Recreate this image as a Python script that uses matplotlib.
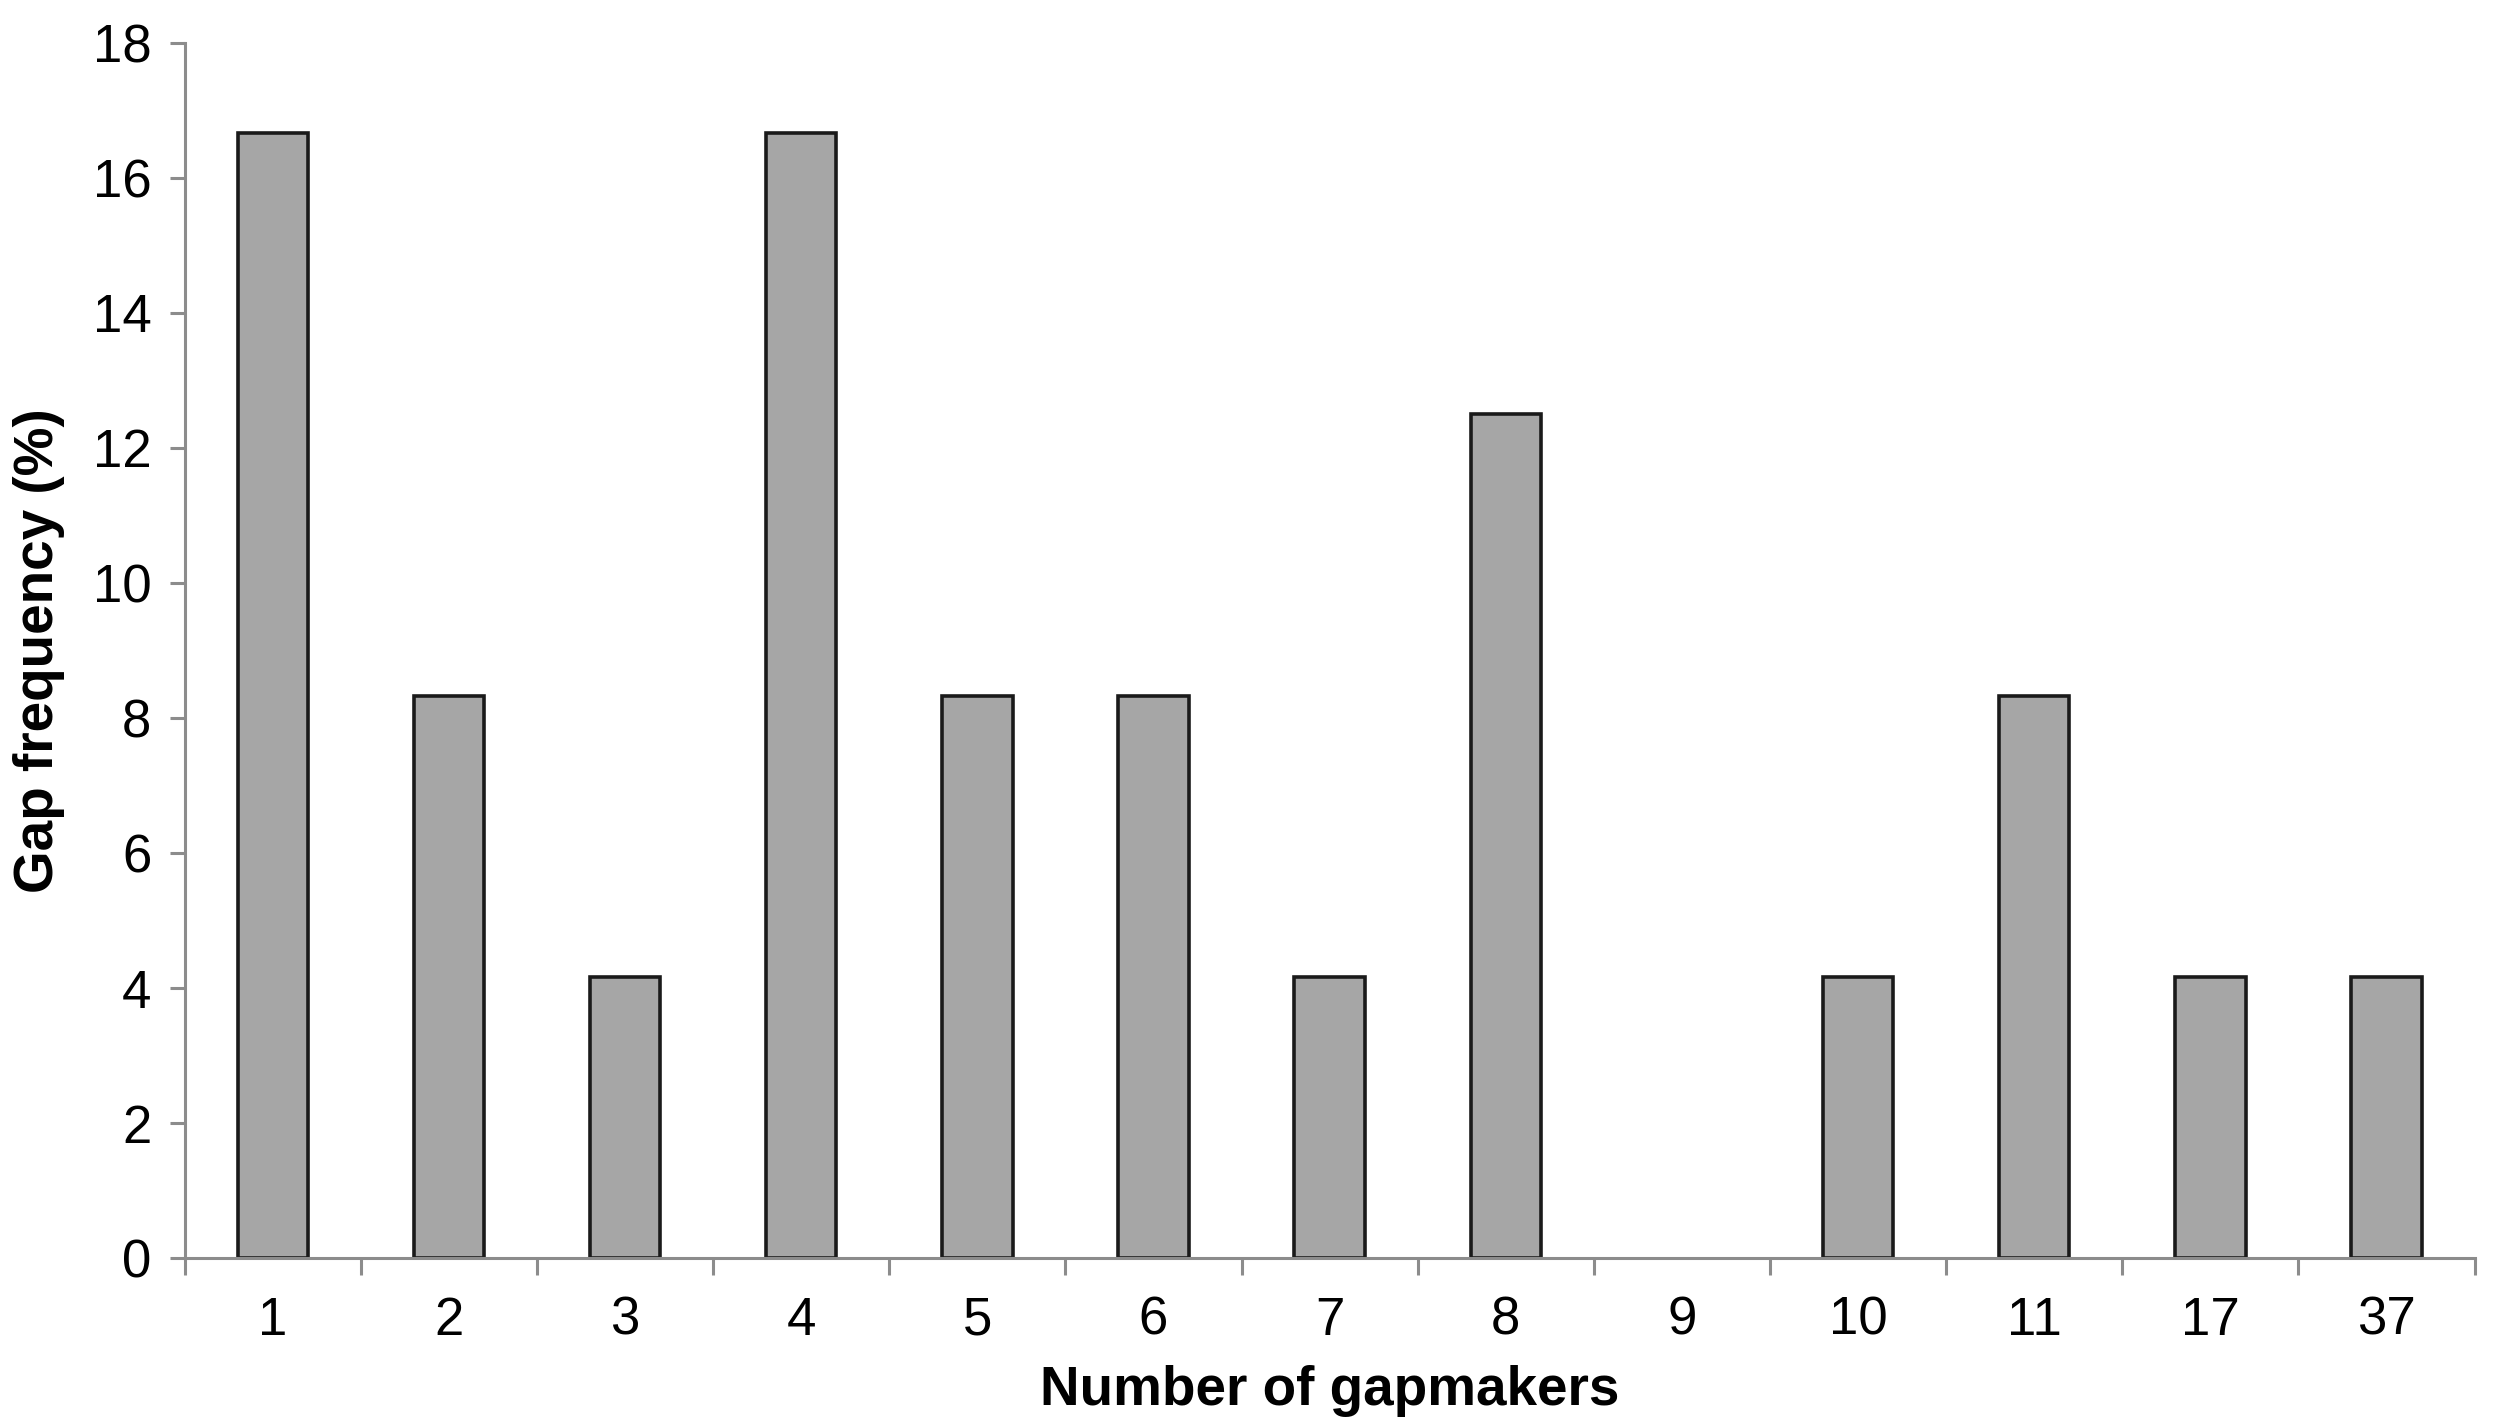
import matplotlib
matplotlib.use("Agg")
import matplotlib.pyplot as plt
import numpy as np

plt.rcParams['font.family'] = ['Liberation Sans', 'DejaVu Sans']

# number of gapmakers per gap, and share of gaps (%)
categories = ["1", "2", "3", "4", "5", "6", "7", "8", "9", "10", "11", "17", "37"]
gap_freq = [16.67, 8.33, 4.17, 16.67, 8.33, 8.33, 4.17, 12.5, 0, 4.17, 8.33, 4.17, 4.17]

fig = plt.figure(figsize=(24.97, 14.28), dpi=100)
ax = fig.add_axes([0.074, 0.119, 0.917, 0.851])

x = np.arange(len(categories))
bars = ax.bar(x, gap_freq, width=0.4, color="#a6a6a6", edgecolor="#1a1a1a", linewidth=2.6)
# empty categories get no outline either
for b, v in zip(bars, gap_freq):
    if v == 0:
        b.set_visible(False)

ax.set_xlim(-0.5, len(categories) - 0.5)
ax.set_ylim(0, 18)
ax.set_yticks(np.arange(0, 19, 2))

ax.set_xticks(x)
ax.set_xticklabels(categories)
ax.set_xticks(np.arange(-0.5, len(categories)), minor=True)

grey = "#8c8c8c"
for side in ["top", "right"]:
    ax.spines[side].set_visible(False)
for side in ["left", "bottom"]:
    ax.spines[side].set_color(grey)
    ax.spines[side].set_linewidth(2.2)

ax.tick_params(axis="y", length=11, width=2.2, color=grey, labelsize=38, pad=13)
ax.tick_params(axis="x", which="major", length=0, labelsize=38, pad=27)
ax.tick_params(axis="x", which="minor", length=12, width=2.2, color=grey)

ax.set_xlabel("Number of gapmakers", fontsize=39.5, fontweight="bold", labelpad=14)
ax.set_ylabel("Gap frequency (%)", fontsize=39.5, fontweight="bold", labelpad=20)

fig.savefig("out.png", dpi=100)
